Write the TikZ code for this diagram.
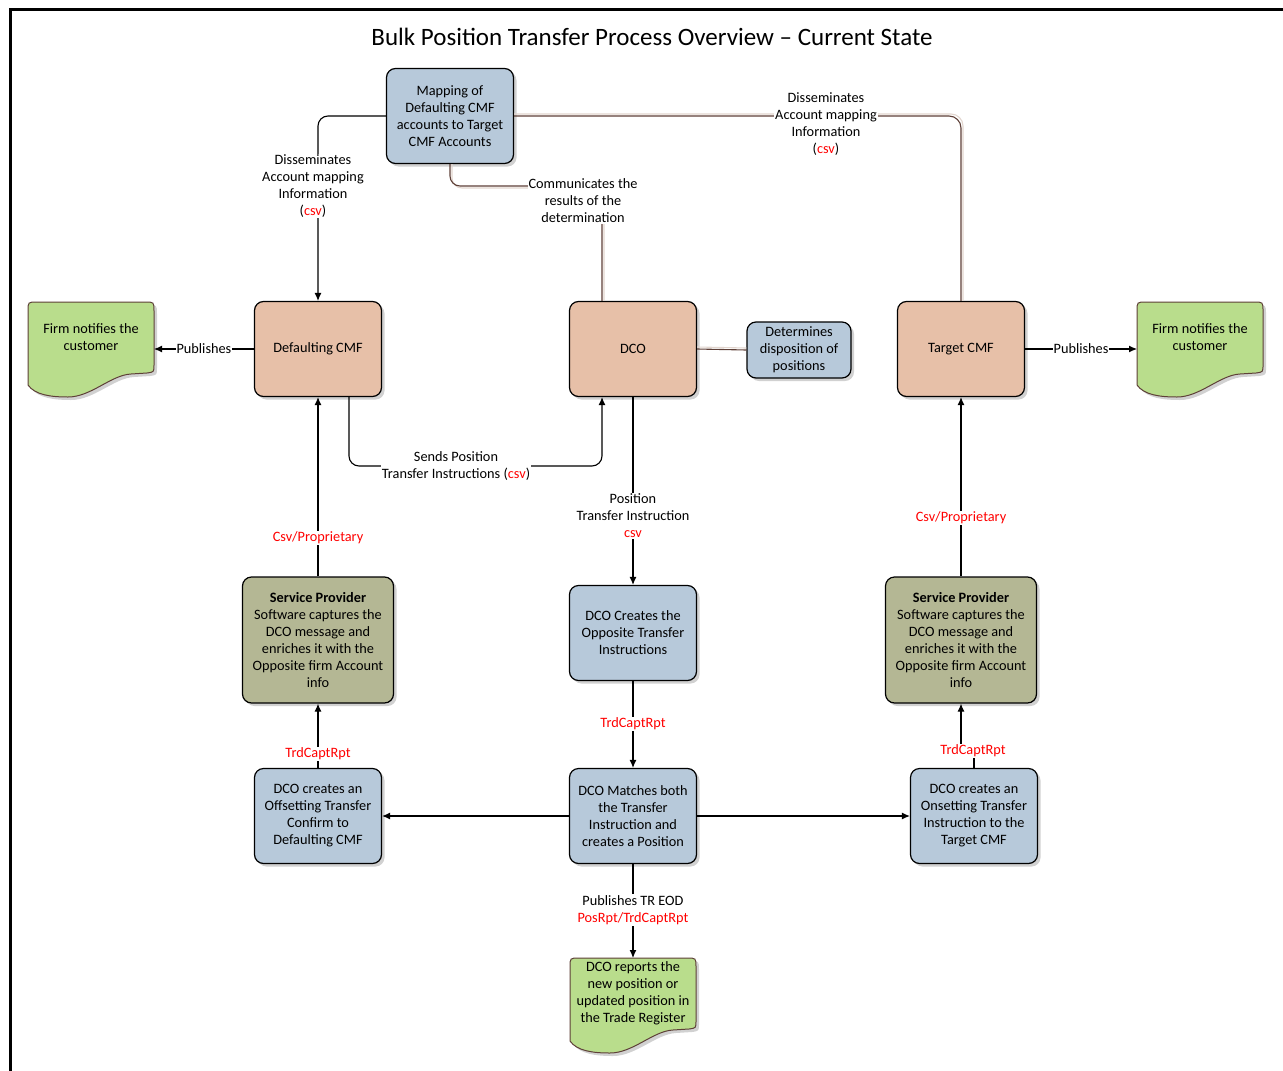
\documentclass[tikz,border=0pt]{standalone}
\usepackage{fontspec}
\setmainfont{Carlito}
\usetikzlibrary{arrows.meta,shadows}
\definecolor{salmon}{HTML}{E7C0A8}
\definecolor{bluebox}{HTML}{B7C9DA}
\definecolor{olive}{HTML}{B4B794}
\definecolor{greendoc}{HTML}{B9DD8C}
\definecolor{brownln}{HTML}{5E4038}
\definecolor{lightln}{HTML}{E2D6CF}
\newcommand\rd[1]{\textcolor{red}{#1}}
\newcommand\fs{\fontsize{14.3}{17}\selectfont}
\tikzset{
  boxbase/.style={draw=black, line width=1.2pt, rounded corners=9pt, align=center,
    font=\fs, minimum width=127pt, minimum height=95pt, inner sep=2pt,
    drop shadow={shadow xshift=3pt, shadow yshift=-3pt, fill=black!18, opacity=1}},
  salbox/.style={boxbase, fill=salmon},
  bluebx/.style={boxbase, fill=bluebox},
  olivebx/.style={boxbase, fill=olive, minimum width=151pt, minimum height=126pt},
  docshape/.style={draw=brownln, line width=1pt, fill=greendoc},
  doctext/.style={align=center, font=\fs, inner sep=0pt},
  lbl/.style={fill=white, align=center, font=\fs, inner sep=1pt},
  conn/.style={draw=black, line width=1.1pt},
  arr/.style={-{Latex[length=8pt,width=7pt]}},
  bconn/.style={draw=brownln, line width=1.1pt},
  sconn/.style={draw=lightln, line width=1.1pt},
}
\newcommand\docoutline{(-63,36) -- (-63,-38) .. controls (-63,-47) .. (-54,-47) -- (54,-47) .. controls (63,-47) .. (63,-38) -- (63,16)
   .. controls (63,23) .. (56,24) -- (40,25) .. controls (20,26) and (0,48) .. (-23,48)
   .. controls (-40,48) and (-56,46) .. (-63,36) -- cycle}
\newcommand\docpath[2]{%
  \begin{scope}[shift={(#1+3,#2+3)}]
    \fill[black!18] \docoutline;
  \end{scope}
  \begin{scope}[shift={(#1,#2)}]
    \path[docshape] \docoutline;
  \end{scope}}
\begin{document}
\begin{tikzpicture}[x=1pt,y=-1pt]
\useasboundingbox (0,0) rectangle (1283,1071);
\fill[white] (0,0) rectangle (1283,1071);
\draw[line width=3pt] (1283,9) -- (10,9) -- (10,1071);

\node[font=\fontsize{25}{30}\selectfont] (title) at (652,37) {Bulk Position Transfer Process Overview -- Current State};

% documents
\docpath{91}{349}
\node[doctext] (firmL) at (91,337) {Firm notifies the\\customer};
\docpath{1200}{349}
\node[doctext] (firmR) at (1200,337) {Firm notifies the\\customer};
\docpath{633}{1005}
\node[doctext] (rep) at (633,993) {DCO reports the\\new position or\\updated position in\\the Trade Register};
\coordinate (firmLE) at (154,349);
\coordinate (firmRW) at (1137,349);
\coordinate (repN) at (633,958);

% boxes
\node[bluebx] (map) at (450,116) {Mapping of\\Defaulting CMF\\accounts to Target\\CMF Accounts};
\node[salbox] (defc) at (318,349) {Defaulting CMF};
\node[salbox] (dco) at (633,349) {DCO};
\node[salbox] (tcmf) at (961,349) {Target CMF};
\node[bluebx, minimum width=104pt, minimum height=56pt] (det) at (799,350) {Determines\\disposition of\\positions};
\node[olivebx] (spL) at (318,640) {\textbf{Service Provider}\\Software captures the\\DCO message and\\enriches it with the\\Opposite firm Account\\info};
\node[olivebx] (spR) at (961,640) {\textbf{Service Provider}\\Software captures the\\DCO message and\\enriches it with the\\Opposite firm Account\\info};
\node[bluebx] (opp) at (633,633) {DCO Creates the\\Opposite Transfer\\Instructions};
\node[bluebx] (offs) at (318,816) {DCO creates an\\Offsetting Transfer\\Confirm to\\Defaulting CMF};
\node[bluebx] (match) at (633,816) {DCO Matches both\\the Transfer\\Instruction and\\creates a Position};
\node[bluebx] (ons) at (974,816) {DCO creates an\\Onsetting Transfer\\Instruction to the\\Target CMF};

% connectors
\draw[conn, arr, rounded corners=10pt] (map.west) -| (defc.north);
\node[lbl] (l1) at (313,186) {Disseminates\\Account mapping\\Information\\(\rd{csv})};

\draw[sconn, rounded corners=12pt] ([yshift=2pt]map.east) -| ([xshift=2pt]tcmf.north);
\draw[bconn, rounded corners=12pt] (map.east) -| (tcmf.north);
\node[lbl] (l2) at (826,124) {Disseminates\\Account mapping\\Information\\(\rd{csv})};

\coordinate (dcoN) at ([xshift=-31pt]dco.north);
\draw[sconn, rounded corners=10pt] ([xshift=2pt]map.south) |- ([xshift=2pt]dcoN |- 0,188) -- ([xshift=2pt]dcoN);
\draw[bconn, rounded corners=10pt] (map.south) |- (dcoN |- 0,186) -- (dcoN);
\node[lbl] (l3) at (583,201) {Communicates the\\results of the\\determination};

\draw[sconn] ([yshift=2pt]dco.east) -- ([yshift=2pt]det.west);
\draw[bconn] (dco.east) -- (det.west);

\draw[conn, arr] (defc.west) -- (firmLE) node[lbl, midway] (l4) {Publishes};
\draw[conn, arr] (tcmf.east) -- (firmRW) node[lbl, midway] (l5) {Publishes};

\coordinate (defS) at ([xshift=31pt]defc.south);
\coordinate (dcoS) at ([xshift=-31pt]dco.south);
\draw[conn, arr, rounded corners=10pt] (defS) -- (defS |- 0,466) -- (dcoS |- 0,466) -- (dcoS);
\node[lbl] (l6) at (456,466) {Sends Position\\Transfer Instructions (\rd{csv})};

\draw[conn, arr] (dco.south) -- (opp.north);
\node[lbl] (l7) at (633,516) {Position\\Transfer Instruction\\\rd{csv}};

\draw[conn, arr] (spL.north) -- (defc.south);
\node[lbl] (l8) at (318,538) {\rd{Csv/Proprietary}};
\draw[conn, arr] (spR.north) -- (tcmf.south);
\node[lbl] (l9) at (961,518) {\rd{Csv/Proprietary}};

\draw[conn, arr] (opp.south) -- (match.north);
\node[lbl] (l10) at (633,724) {\rd{TrdCaptRpt}};

\draw[conn, arr] (match.west) -- (offs.east);
\draw[conn, arr] (match.east) -- (ons.west);

\draw[conn, arr] (offs.north) -- (spL.south);
\node[lbl] (l11) at (318,754) {\rd{TrdCaptRpt}};

\draw[conn, arr] (ons.north) -- (ons.north |- 0,751) -- (spR.south |- 0,751) -- (spR.south);
\node[lbl] (l12) at (973,751) {\rd{TrdCaptRpt}};

\draw[conn, arr] (match.south) -- (repN);
\node[lbl] (l13) at (633,910) {Publishes TR EOD\\\rd{PosRpt/TrdCaptRpt}};
\end{tikzpicture}
\end{document}
